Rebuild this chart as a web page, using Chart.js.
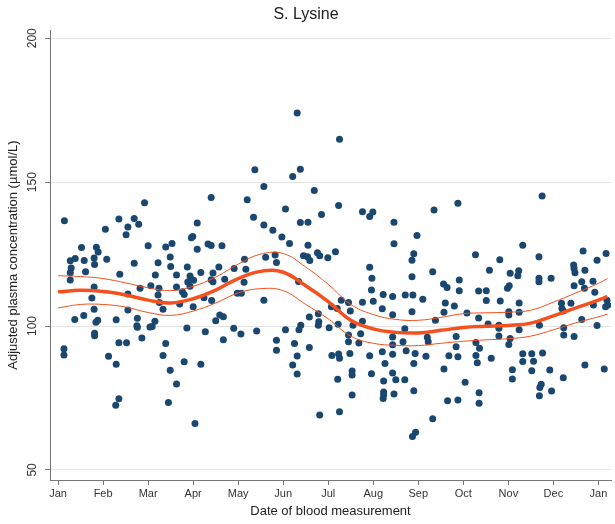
<!DOCTYPE html>
<html>
<head>
<meta charset="utf-8">
<script src="https://cdn.jsdelivr.net/npm/chart.js@4.4.1/dist/chart.umd.min.js"></script>
<style>
  html, body { margin: 0; padding: 0; background: #fff; }
  #wrap { width: 615px; height: 524px; }
</style>
</head>
<body>
<div id="wrap"><canvas id="chart" width="615" height="524"></canvas></div>
<script>
// x is months since 1 Jan (0 = Jan, 12 = next Jan)
const monthLabels = ["Jan","Feb","Mar","Apr","May","Jun","Jul","Aug","Sep","Oct","Nov","Dec","Jan"];
const monthTicks = [0,1,2,3,4,5,6,7,8,9,10,11,12];
const yTicks = [50, 100, 150, 200];

const janFeb = [[0.14,136.6],[1.92,142.8],[1.35,137.2],[1.69,137.4],[1.55,134.4],[1.51,131.7],[1.79,135.4],[1.05,133.6],[2.00,127.9],[0.52,127.3],[0.85,127.4],[0.89,125.7],[0.27,122.7],[0.38,123.5],[0.58,122.8],[0.80,123.6],[0.81,121.4],[1.08,123.2],[1.69,121.8],[0.29,120.2],[0.27,118.5],[0.61,118.9],[1.37,118.0],[0.27,116.0],[0.80,113.6],[0.75,109.7],[1.55,111.1],[1.82,113.1],[0.80,105.8],[1.55,105.6],[0.37,102.3],[0.57,103.7],[0.88,102.0],[0.84,101.3],[1.29,102.2],[1.76,102.7],[1.75,100.1],[1.76,99.6],[2.04,99.7],[0.81,97.5],[0.81,96.6],[1.86,95.8],[1.35,94.2],[1.52,94.2],[0.13,92.1],[0.13,89.9],[1.12,89.5],[1.29,86.7],[1.35,74.7],[1.28,72.5]];
const marApr = [[3.40,144.7],[3.09,135.8],[2.99,131.1],[2.96,130.7],[2.39,127.5],[2.53,128.7],[3.09,126.7],[3.33,128.5],[3.40,128.0],[3.64,127.9],[2.22,122.0],[2.49,124.0],[2.50,120.7],[2.87,120.5],[2.16,117.7],[2.63,117.7],[2.93,117.4],[3.17,118.6],[3.44,118.4],[3.57,120.5],[3.91,120.0],[4.14,123.2],[2.88,115.3],[2.96,116.3],[3.01,115.9],[3.40,116.1],[3.44,115.4],[3.70,116.3],[2.06,114.0],[2.24,113.1],[2.22,110.8],[2.63,113.6],[2.76,111.9],[2.80,111.0],[2.93,113.8],[3.24,109.8],[3.41,108.9],[3.98,111.4],[4.07,111.4],[2.25,108.2],[2.70,107.7],[2.33,105.8],[3.00,106.7],[2.15,101.7],[2.09,99.8],[2.86,99.3],[3.27,98.0],[3.50,101.8],[3.59,103.8],[3.67,103.2],[3.90,99.2],[4.06,97.2],[3.67,95.2],[2.39,93.9],[2.33,89.8],[2.80,87.6],[3.17,86.7],[2.49,84.6],[2.63,79.9],[2.45,73.4],[3.04,66.1]];
const mayJun = [[5.31,174.0],[4.37,154.3],[5.21,152.0],[5.38,154.5],[6.25,164.9],[4.57,148.5],[5.69,147.1],[4.20,143.9],[5.05,140.7],[6.23,141.9],[4.34,137.8],[5.85,138.8],[4.57,135.1],[4.77,133.3],[5.38,136.0],[5.55,136.1],[4.97,130.9],[5.14,128.7],[5.55,128.1],[4.61,123.9],[4.82,124.7],[4.85,122.1],[5.45,124.4],[5.54,124.1],[5.59,122.8],[5.76,125.5],[5.81,124.4],[5.99,123.7],[6.16,125.8],[4.17,119.7],[4.13,115.2],[5.34,115.5],[4.57,109.0],[5.58,103.1],[5.78,104.3],[5.79,101.5],[5.78,100.3],[6.02,99.4],[6.22,100.6],[6.07,106.7],[6.20,106.1],[4.41,98.3],[5.05,98.7],[5.39,100.3],[5.35,98.7],[4.85,95.1],[4.85,91.6],[5.25,93.9],[5.58,92.5],[5.31,89.6],[5.21,86.5],[5.31,83.3],[6.08,89.8],[6.23,90.3],[6.21,81.5],[5.81,69.1],[6.25,70.2]];
const julAug = [[6.76,139.7],[6.99,139.6],[6.92,138.1],[7.46,136.1],[7.97,131.5],[7.46,128.6],[7.90,125.1],[7.86,122.9],[6.92,120.4],[6.97,116.6],[7.86,117.1],[8.32,118.9],[8.35,140.3],[6.96,112.5],[7.22,111.0],[7.43,110.3],[7.71,110.8],[7.88,110.8],[7.00,108.6],[6.76,108.3],[8.10,109.3],[6.29,109.0],[6.45,108.2],[6.49,105.2],[7.20,106.0],[7.43,103.9],[7.86,105.0],[6.76,101.7],[6.55,100.3],[7.70,99.1],[6.45,96.9],[6.72,97.3],[7.43,96.2],[6.45,94.5],[6.68,94.1],[7.66,94.5],[7.43,93.5],[8.20,96.1],[8.22,94.5],[6.25,88.8],[6.48,90.5],[6.92,89.7],[7.20,91.1],[7.43,90.2],[7.73,91.4],[7.93,90.5],[8.17,89.5],[7.26,87.0],[7.90,87.0],[6.53,84.4],[6.53,83.0],[6.96,83.4],[7.43,83.7],[7.23,80.9],[7.50,81.3],[7.70,81.3],[7.90,77.5],[7.23,77.1],[7.23,76.0],[7.22,74.8],[7.46,76.4],[6.53,76.0],[8.32,67.8],[7.94,63.1],[7.87,61.6]];
const sepOct = [[8.88,142.7],[9.27,124.8],[9.81,123.0],[10.32,128.1],[9.58,119.4],[10.04,118.3],[10.23,119.2],[10.21,117.5],[8.91,116.0],[8.56,114.6],[8.64,113.4],[8.91,112.3],[9.34,112.2],[9.51,112.3],[9.98,113.1],[10.02,114.0],[9.51,108.9],[9.82,108.7],[10.24,108.0],[8.60,108.0],[8.80,107.0],[8.57,104.8],[8.38,102.0],[9.08,104.5],[9.34,102.8],[10.01,105.0],[10.01,103.8],[10.24,104.8],[9.55,100.7],[9.79,100.3],[9.79,99.2],[10.24,98.7],[8.84,96.4],[9.79,96.5],[10.04,95.7],[9.28,94.3],[8.84,92.8],[9.36,92.3],[10.01,93.6],[8.68,89.7],[8.88,89.3],[9.28,89.8],[9.31,87.2],[9.62,88.8],[10.32,90.4],[10.32,87.7],[8.57,85.1],[10.09,84.8],[10.09,81.6],[9.04,80.5],[9.35,76.8],[9.35,73.2],[8.65,74.0],[8.88,74.3]];
const novDec = [[10.75,145.2],[10.68,124.1],[11.66,126.1],[12.17,125.2],[11.97,122.9],[11.45,121.2],[11.46,120.0],[11.48,118.5],[11.70,119.4],[10.68,116.6],[10.95,116.6],[10.68,115.4],[11.46,114.0],[11.63,115.4],[11.69,113.1],[11.88,115.6],[11.92,111.7],[12.19,109.0],[12.16,106.7],[12.21,107.3],[11.18,107.9],[11.19,106.1],[11.22,105.2],[11.39,107.9],[11.89,107.3],[11.63,102.3],[11.97,100.2],[10.69,100.3],[11.23,99.4],[11.23,96.9],[11.46,96.4],[10.52,90.4],[10.76,90.6],[10.56,87.8],[10.52,84.5],[10.92,84.7],[11.70,86.5],[12.13,85.1],[11.22,82.0],[10.73,79.8],[10.70,78.6],[10.69,75.8],[10.96,77.4]];

// fitted seasonal curve with its confidence band
const fitMonth = [0,0.5,1,1.5,2,2.5,3,3.5,4,4.5,5,5.5,6,6.5,7,7.5,8,8.5,9,9.5,10,10.5,11,11.5,12,12.2];
const fitValue = [111.9,112.4,112,110.8,109,108,109.5,112.5,116.5,119,118.7,114,108.5,102,99,97.8,97.6,98.5,99.5,99.9,100.2,101,103.5,106.3,109,110.3];
const upperValue = [117.5,117.2,116.5,115,113.3,112.3,113.8,117,121.5,125,125.2,120.5,114.5,107.5,104,102.3,102,103,104.3,104.6,104.8,105.5,108.3,111.5,114.8,116.5];
const lowerValue = [106.3,107.5,107.5,106.6,104.7,103.7,105.2,108,111.5,113,112.3,107.5,102.5,96.5,94,93.3,93.2,94,94.7,95.2,95.6,96.5,98.7,101.1,103.2,104.1];

const navy = "#1a476f";
const orange = "#f4511e";
const font = "'Liberation Sans', Arial, sans-serif";

const toXY = arr => arr.map(p => ({ x: p[0], y: p[1] }));
const curve = vals => fitMonth.map((m, i) => ({ x: m, y: vals[i] }));

// y tick labels are rotated in the original, draw them ourselves
const rotatedYLabels = {
  id: "rotatedYLabels",
  afterDraw(chart) {
    const { ctx, scales } = chart;
    const y = scales.y;
    ctx.save();
    ctx.font = "12px " + font;
    ctx.fillStyle = "#333";
    ctx.textAlign = "center";
    ctx.textBaseline = "middle";
    yTicks.forEach(v => {
      ctx.save();
      ctx.translate(y.right - 17, y.getPixelForValue(v));
      ctx.rotate(-Math.PI / 2);
      ctx.fillText(String(v), 0, 0);
      ctx.restore();
    });
    ctx.restore();
  }
};

const lineStyle = (data, width) => ({
  type: "line",
  data: data,
  borderColor: orange,
  borderWidth: width,
  pointRadius: 0,
  fill: false,
  tension: 0.4,
  order: 0
});

new Chart(document.getElementById("chart"), {
  type: "scatter",
  data: {
    datasets: [
      lineStyle(curve(upperValue), 1),
      lineStyle(curve(lowerValue), 1),
      lineStyle(curve(fitValue), 3.5),
      {
        type: "scatter",
        data: toXY([].concat(janFeb, marApr, mayJun, julAug, sepOct, novDec)),
        backgroundColor: navy,
        borderColor: navy,
        borderWidth: 0,
        pointRadius: 3.5,
        order: 1
      }
    ]
  },
  options: {
    responsive: false,
    animation: false,
    layout: { padding: { top: 1, right: 3, left: 0, bottom: 0 } },
    plugins: {
      legend: { display: false },
      tooltip: { enabled: false },
      title: {
        display: true,
        text: "S. Lysine",
        color: "#222",
        font: { family: font, size: 16, weight: "normal" },
        padding: { top: 4, bottom: 6 }
      }
    },
    scales: {
      x: {
        type: "linear",
        min: -0.18,
        max: 12.28,
        afterBuildTicks: s => { s.ticks = monthTicks.map(v => ({ value: v })); },
        afterFit: s => { s.height = 44; },
        ticks: {
          callback: v => monthLabels[v],
          color: "#333",
          font: { family: font, size: 11 },
          padding: 2,
          maxRotation: 0,
          autoSkip: false
        },
        grid: { drawOnChartArea: false, drawTicks: true, tickLength: 5, color: "#777" },
        border: { display: true, color: "#777" },
        title: {
          display: true,
          text: "Date of blood measurement",
          color: "#222",
          font: { family: font, size: 13 },
          padding: { top: 0, bottom: 5 }
        }
      },
      y: {
        min: 46.5,
        max: 202.8,
        afterBuildTicks: s => { s.ticks = yTicks.map(v => ({ value: v })); },
        afterFit: s => { s.width = 50; },
        ticks: { callback: () => "", padding: 0 },
        grid: { color: "#e4e4e4", drawTicks: true, tickLength: 5, tickColor: "#777" },
        border: { display: true, color: "#777" },
        title: {
          display: true,
          text: "Adjusted plasma concentration (µmol/L)",
          color: "#222",
          font: { family: font, size: 13 },
          padding: { top: 6, bottom: 0 }
        }
      }
    }
  },
  plugins: [rotatedYLabels]
});
</script>
</body>
</html>
